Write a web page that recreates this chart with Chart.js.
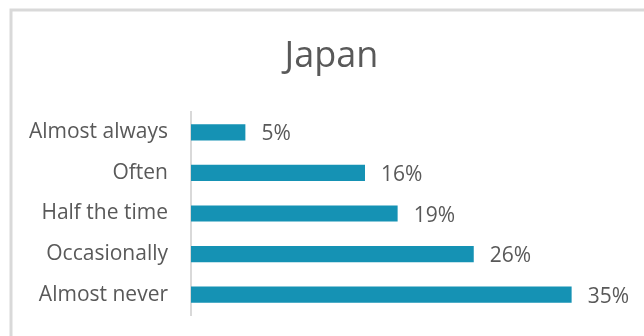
<!DOCTYPE html>
<html>
<head>
<meta charset="utf-8">
<script src="https://cdn.jsdelivr.net/npm/chart.js@4.4.1/dist/chart.umd.min.js"></script>
<style>
  html, body { margin: 0; padding: 0; background: #ffffff; }
  #wrap { position: relative; width: 644px; height: 336px; }
</style>
</head>
<body>
<div id="wrap"><canvas id="c" width="644" height="336"></canvas></div>
<script>
const categories = ['Almost always', 'Often', 'Half the time', 'Occasionally', 'Almost never'];
const shares = [5, 16, 19, 26, 35];
const chartTitle = 'Japan';

const textColor = '#595959';
const lineColor = '#d9d9d9';
const barColor = '#1592b4';
const font = 'Open Sans';

// Light frame around the whole chart, running off the right and bottom edges
const framePlugin = {
  id: 'frame',
  beforeDraw(chart) {
    const ctx = chart.ctx;
    ctx.save();
    ctx.strokeStyle = lineColor;
    ctx.lineWidth = 3;
    ctx.strokeRect(11, 10, 700, 400);
    ctx.restore();
  }
};

// Title centred over the framed chart box
const titlePlugin = {
  id: 'boxTitle',
  afterDraw(chart) {
    const ctx = chart.ctx;
    ctx.save();
    ctx.fillStyle = textColor;
    ctx.font = '36px "' + font + '"';
    ctx.textAlign = 'center';
    ctx.textBaseline = 'alphabetic';
    ctx.fillText(chartTitle, 331.5, 67);
    ctx.restore();
  }
};

// Percentage label to the right of each bar
const valueLabels = {
  id: 'valueLabels',
  afterDatasetsDraw(chart) {
    const ctx = chart.ctx;
    const meta = chart.getDatasetMeta(0);
    ctx.save();
    ctx.fillStyle = textColor;
    ctx.font = '21px "' + font + '"';
    ctx.textAlign = 'left';
    ctx.textBaseline = 'alphabetic';
    meta.data.forEach((bar, i) => {
      ctx.fillText(shares[i] + '%', bar.x + 16, bar.y + 8);
    });
    ctx.restore();
  }
};

new Chart(document.getElementById('c'), {
  type: 'bar',
  data: {
    labels: categories,
    datasets: [{
      data: shares,
      backgroundColor: barColor,
      borderWidth: 0,
      barPercentage: 0.4,
      categoryPercentage: 1.0
    }]
  },
  plugins: [framePlugin, titlePlugin, valueLabels],
  options: {
    indexAxis: 'y',
    responsive: false,
    animation: false,
    layout: { padding: { left: 10, right: 18, top: 112, bottom: 21 } },
    plugins: {
      legend: { display: false },
      tooltip: { enabled: false },
      title: { display: false }
    },
    scales: {
      x: {
        display: false,
        min: 0,
        max: 40
      },
      y: {
        afterFit(scale) { scale.width = 181; },
        // tick marks are hidden; their length only sets the label gap
        grid: { display: false, drawTicks: true, tickLength: 23 },
        border: { display: true, color: lineColor, width: 2 },
        ticks: {
          color: textColor,
          padding: 0,
          font: { family: font, size: 21 }
        }
      }
    }
  }
});
</script>
</body>
</html>
